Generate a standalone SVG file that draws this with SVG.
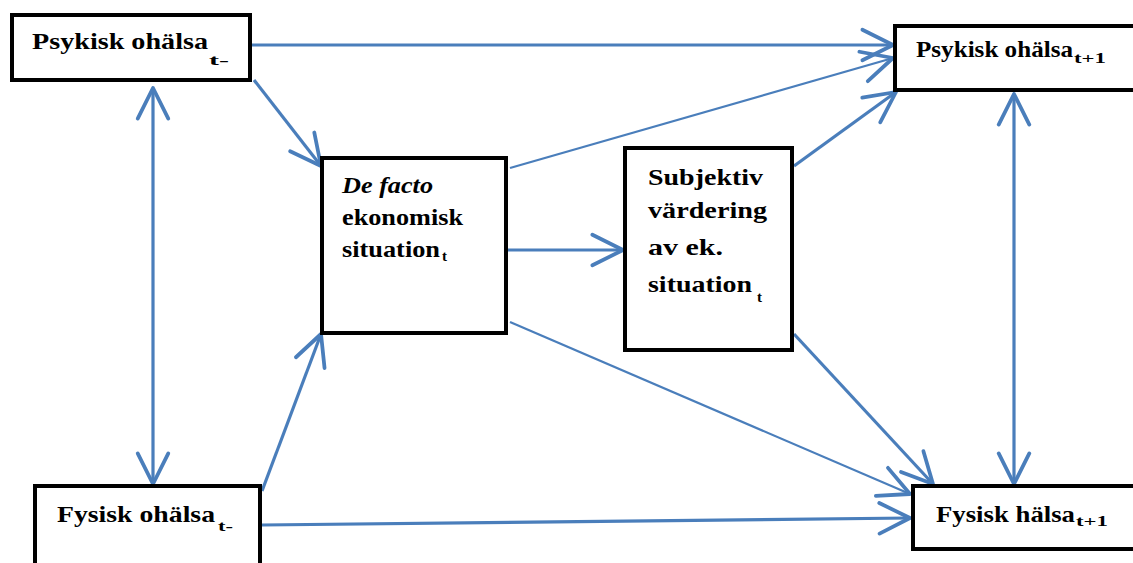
<svg xmlns="http://www.w3.org/2000/svg" width="1133" height="563" viewBox="0 0 1133 563">
<style>
.box{fill:#fff;stroke:#000;stroke-width:4}
.t{font-family:"Liberation Serif","Times New Roman",serif;font-weight:bold;font-size:23px;fill:#000}
.s{font-family:"Liberation Serif","Times New Roman",serif;font-weight:bold;font-size:15px;fill:#000}
.c{fill:none;stroke:#4a7ebb;stroke-width:3.2}
.thin{stroke-width:2.2}
</style>
<defs>
<marker id="ah" markerUnits="userSpaceOnUse" markerWidth="40" markerHeight="40" viewBox="-30 -16 34 32" refX="0" refY="0" orient="auto-start-reverse">
<path d="M-26,-13 L0,0 L-26,13" fill="none" stroke="#4a7ebb" stroke-width="3.2" stroke-linecap="round" stroke-linejoin="round"/>
</marker>
</defs>
<rect width="1133" height="563" fill="#fff"/>
<g id="connectors">
<path class="c" d="M252,45 L893,45" marker-end="url(#ah)"/>
<path class="c" d="M254,80 L321,166" marker-end="url(#ah)"/>
<path class="c" d="M153,88 L153,484" marker-start="url(#ah)" marker-end="url(#ah)"/>
<path class="c" d="M262,491 L321,334" marker-end="url(#ah)"/>
<path class="c" d="M262,525 L910,518" marker-end="url(#ah)"/>
<path class="c thin" d="M510,168 L893,58" marker-end="url(#ah)"/>
<path class="c" d="M508,250 L623,250" marker-end="url(#ah)"/>
<path class="c" d="M794,166 L896,92" marker-end="url(#ah)"/>
<path class="c thin" d="M510,322 L910,494" marker-end="url(#ah)"/>
<path class="c" d="M794,334 L933,484" marker-end="url(#ah)"/>
<path class="c" d="M1014,94 L1014,484" marker-start="url(#ah)" marker-end="url(#ah)"/>
</g>
<g id="psykisk-t">
<rect class="box" x="12" y="15" width="238" height="65"/>
<text class="t" x="32" y="49" textLength="176" lengthAdjust="spacingAndGlyphs">Psykisk ohälsa</text>
<text class="s" x="209" y="65" textLength="20" lengthAdjust="spacingAndGlyphs">t-</text>
</g>
<g id="psykisk-t1">
<rect class="box" x="895" y="26" width="250" height="64"/>
<text class="t" x="916" y="57" textLength="157" lengthAdjust="spacingAndGlyphs">Psykisk ohälsa</text>
<text class="s" x="1074" y="63" textLength="32" lengthAdjust="spacingAndGlyphs">t+1</text>
</g>
<g id="defacto">
<rect class="box" x="322" y="158" width="184" height="175"/>
<text class="t" x="342" y="193" font-style="italic" textLength="91" lengthAdjust="spacingAndGlyphs">De facto</text>
<text class="t" x="342" y="225" textLength="121" lengthAdjust="spacingAndGlyphs">ekonomisk</text>
<text class="t" x="342" y="257" textLength="98" lengthAdjust="spacingAndGlyphs">situation</text>
<text class="s" x="442" y="261">t</text>
</g>
<g id="subjektiv">
<rect class="box" x="625" y="148" width="167" height="202"/>
<text class="t" x="648" y="185" textLength="115" lengthAdjust="spacingAndGlyphs">Subjektiv</text>
<text class="t" x="648" y="218" textLength="119" lengthAdjust="spacingAndGlyphs">värdering</text>
<text class="t" x="648" y="255" textLength="75" lengthAdjust="spacingAndGlyphs">av ek.</text>
<text class="t" x="648" y="292" textLength="104" lengthAdjust="spacingAndGlyphs">situation</text>
<text class="s" x="757" y="302">t</text>
</g>
<g id="fysisk-t">
<rect class="box" x="35" y="486" width="225" height="90"/>
<text class="t" x="57" y="522" textLength="158" lengthAdjust="spacingAndGlyphs">Fysisk ohälsa</text>
<text class="s" x="218" y="531" textLength="15" lengthAdjust="spacingAndGlyphs">t-</text>
</g>
<g id="fysisk-t1">
<rect class="box" x="913" y="486" width="230" height="63"/>
<text class="t" x="936" y="522" textLength="139" lengthAdjust="spacingAndGlyphs">Fysisk hälsa</text>
<text class="s" x="1076" y="526" textLength="32" lengthAdjust="spacingAndGlyphs">t+1</text>
</g>
</svg>
